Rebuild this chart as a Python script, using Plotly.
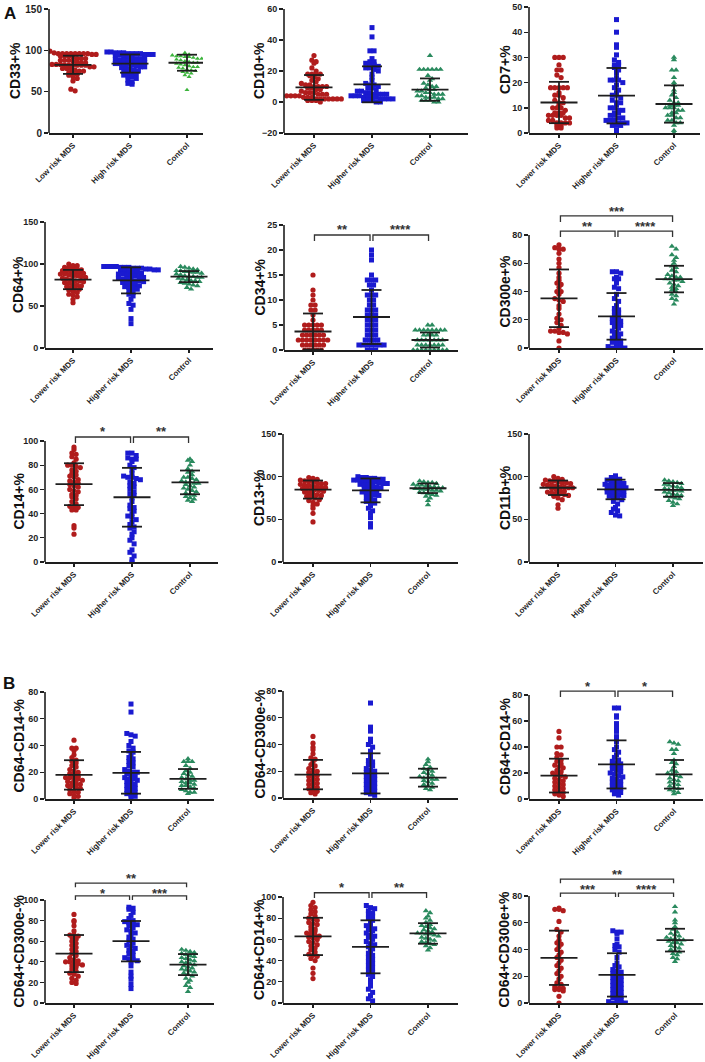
import plotly.graph_objects as go

W, H = 705, 1062
GROUPS_A1 = ["Low risk MDS", "High risk MDS", "Control"]
GROUPS = ["Lower risk MDS", "Higher risk MDS", "Control"]

# ---------------- data ----------------
cd33_low = [99, 97, 96, 96, 96, 96, 96, 96, 96, 96, 95, 95, 93, 93, 93, 92, 90, 90, 90, 88, 88, 88, 87, 86, 85, 85,
            83, 83, 83, 82, 82, 82, 82, 82, 82, 80, 80, 78, 78, 78, 76, 75, 75, 73, 73, 71, 70, 68, 66, 63, 53, 51]
cd33_high = [98, 98, 97, 97, 97, 96, 96, 96, 96, 95, 95, 95, 94, 94, 93, 92, 91, 90, 90, 90, 89, 88, 88, 87, 86, 85,
             85, 85, 84, 84, 84, 83, 82, 81, 80, 80, 79, 78, 77, 76, 75, 74, 73, 72, 72, 70, 69, 68, 66, 64, 62, 60, 59]
cd33_ctrl = [97, 95, 94, 93, 93, 92, 92, 91, 90, 90, 89, 88, 87, 86, 85, 85, 84, 83, 82, 81, 80, 80, 79, 78, 77, 76,
             75, 74, 73, 72, 70, 68, 52]
cd33_mean = [82.5, 84.0, 85.0]
cd33_sd = [11.0, 11.0, 9.7]

cd10_low = [30, 27, 26, 25, 22, 20, 18, 18, 18, 18, 17, 16, 15, 14, 13, 12, 11, 11, 10, 10, 10, 10, 9, 9, 8, 8, 7, 6,
            6, 6, 5, 5, 5, 4, 4, 4, 4, 3, 3, 3, 2, 2, 2, 2, 2, 2, 2, 1, 1, 1, 0]
cd10_high = [48, 42, 33, 33, 28, 26, 26, 25, 25, 24, 23, 22, 22, 21, 20, 18, 16, 14, 12, 11, 11, 10, 9, 9, 8, 7, 7, 6,
             6, 5, 5, 5, 5, 4, 4, 4, 3, 3, 3, 3, 2, 2, 2, 2, 1, 1, 1, 0, 0]
cd10_ctrl = [30, 21, 21, 21, 21, 21, 21, 17, 15, 14, 12, 11, 10, 10, 9, 8, 8, 7, 7, 6, 6, 5, 5, 5, 4, 4, 3, 3, 3, 2, 2,
             1, 1, 1, 0, 0]
cd10_mean = [9.4, 11.4, 8.0]
cd10_sd = [8.0, 11.6, 7.2]

cd7_low = [30, 30, 30, 27, 25, 25, 23, 22, 18, 18, 18, 18, 18, 16, 15, 15, 14, 13, 12, 12, 11, 10, 10, 10, 9, 8, 8, 8,
           7, 7, 7, 7, 6, 6, 5, 5, 4, 4, 4, 4, 3, 3, 2, 2]
cd7_high = [45, 40, 35, 34, 31, 29, 28, 27, 27, 26, 25, 24, 22, 21, 21, 21, 20, 19, 18, 17, 16, 15, 15, 14, 13, 12, 12,
            11, 10, 10, 9, 9, 8, 8, 7, 7, 6, 6, 5, 5, 5, 4, 4, 4, 3, 3, 3, 1, 0]
cd7_ctrl = [30, 29, 25, 25, 22, 20, 19, 17, 16, 15, 14, 13, 12, 12, 11, 11, 11, 10, 10, 10, 9, 9, 8, 8, 7, 7, 6, 6, 5,
            5, 4, 4, 3, 1, 0]
cd7_mean = [12.1, 14.8, 11.5]
cd7_sd = [8.2, 11.0, 7.4]

cd64_low = [100, 98, 98, 96, 96, 95, 94, 93, 92, 92, 91, 90, 90, 89, 88, 88, 87, 86, 86, 85, 84, 83, 82, 81, 80, 80,
            79, 78, 77, 76, 75, 74, 73, 72, 71, 70, 69, 68, 66, 64, 63, 61, 58, 54]
cd64_high = [97, 97, 97, 97, 96, 96, 96, 95, 95, 95, 94, 94, 93, 93, 92, 92, 91, 90, 90, 89, 88, 88, 87, 86, 86, 85,
             84, 83, 82, 82, 81, 80, 80, 79, 78, 77, 76, 75, 74, 73, 72, 71, 70, 68, 66, 64, 62, 58, 53, 51, 46, 35, 29]
cd64_ctrl = [97, 96, 95, 94, 93, 92, 92, 91, 91, 90, 90, 89, 88, 87, 86, 85, 85, 84, 84, 83, 82, 81, 80, 80, 79, 78,
             77, 76, 75, 74, 72, 70]
cd64_mean = [81.5, 80.5, 85.0]
cd64_sd = [11.5, 15.5, 6.6]

cd34_low = [15, 12, 11, 10, 9, 9, 8, 8, 7, 6, 5, 5, 5, 5, 5, 4, 4, 4, 4, 4, 3, 3, 3, 3, 3, 3, 2, 2, 2, 2, 2, 2, 2, 2,
            1, 1, 1, 1, 1, 1, 0, 0, 0, 0, 0]
cd34_high = [20, 19, 18, 15, 14, 14, 14, 13, 13, 12, 11, 11, 11, 10, 10, 9, 9, 8, 8, 8, 7, 7, 7, 6, 6, 6, 5, 5, 5, 4,
             4, 4, 3, 3, 3, 2, 2, 2, 2, 1, 1, 1, 1, 1, 1, 1, 0, 0, 0]
cd34_ctrl = [5, 5, 4, 4, 4, 4, 4, 4, 4, 4, 3, 3, 3, 3, 2, 2, 2, 2, 2, 2, 2, 1, 1, 1, 1, 1, 1, 1, 0, 0, 0, 0, 0, 0, 0,
             0, 0]
cd34_mean = [3.7, 6.6, 2.0]
cd34_sd = [3.6, 5.4, 1.5]

cd300e_low = [73, 71, 70, 70, 67, 63, 60, 57, 53, 50, 48, 46, 45, 43, 40, 40, 38, 35, 34, 33, 30, 28, 24, 21, 20, 18,
              16, 14, 12, 12, 11, 11, 10, 5, 0]
cd300e_high = [54, 54, 53, 50, 49, 49, 46, 43, 42, 38, 35, 33, 30, 28, 27, 26, 25, 23, 22, 21, 20, 19, 18, 17, 16, 15,
               14, 12, 11, 10, 9, 8, 7, 6, 5, 4, 3, 2, 1, 0, 0, 0, 0]
cd300e_ctrl = [72, 70, 66, 64, 62, 60, 58, 57, 55, 54, 52, 51, 50, 50, 49, 49, 48, 48, 47, 46, 45, 44, 43, 42, 41, 40,
               38, 37, 35, 34, 31]
cd300e_mean = [35.2, 22.4, 48.8]
cd300e_sd = [20.4, 16.5, 9.4]

cd14_low = [95, 93, 90, 89, 87, 85, 82, 80, 80, 79, 78, 76, 75, 73, 72, 71, 70, 68, 67, 66, 65, 64, 63, 62, 60, 59, 58,
            56, 55, 54, 52, 50, 48, 46, 46, 45, 43, 43, 30, 28, 23]
cd14_high = [90, 90, 88, 86, 85, 85, 83, 80, 78, 76, 73, 71, 70, 70, 69, 68, 66, 65, 63, 62, 60, 58, 56, 55, 53, 50,
             47, 45, 44, 42, 40, 38, 37, 35, 33, 31, 29, 28, 25, 23, 20, 18, 15, 10, 8, 5, 2, 0]
cd14_ctrl = [85, 84, 83, 80, 77, 75, 74, 72, 70, 70, 69, 68, 67, 66, 66, 65, 65, 64, 63, 62, 61, 60, 59, 58, 57, 56,
             55, 54, 53, 52, 51, 50]
cd14_mean = [64.3, 53.5, 65.8]
cd14_sd = [17.3, 24.3, 9.8]

cd13_low = [99, 98, 97, 96, 95, 95, 94, 93, 92, 92, 91, 90, 90, 89, 88, 88, 87, 86, 86, 85, 85, 84, 83, 82, 81, 80, 79,
            78, 77, 76, 75, 73, 72, 70, 68, 66, 63, 57, 47]
cd13_high = [100, 99, 99, 98, 98, 97, 97, 96, 96, 95, 95, 94, 94, 93, 92, 92, 91, 90, 90, 89, 88, 87, 86, 85, 84, 83,
             82, 81, 80, 79, 78, 76, 75, 73, 71, 70, 69, 66, 63, 60, 57, 52, 45, 41]
cd13_ctrl = [95, 94, 93, 93, 92, 91, 90, 90, 89, 88, 88, 87, 87, 86, 86, 85, 85, 84, 84, 83, 82, 81, 80, 79, 78, 77, 75,
             72, 67]
cd13_mean = [84.9, 83.9, 86.4]
cd13_sd = [10.6, 14.0, 5.6]

cd11b_low = [100, 98, 97, 96, 95, 95, 94, 93, 93, 92, 91, 90, 90, 89, 88, 88, 87, 87, 86, 85, 84, 83, 82, 81, 80, 80,
             79, 78, 77, 75, 73, 67, 63]
cd11b_high = [101, 99, 98, 97, 96, 95, 94, 93, 92, 91, 90, 90, 89, 88, 87, 86, 85, 85, 84, 83, 82, 81, 80, 79, 78, 77,
              76, 75, 73, 71, 68, 64, 62, 60, 58, 55, 54]
cd11b_ctrl = [96, 95, 94, 93, 92, 91, 90, 89, 88, 87, 86, 85, 84, 84, 83, 82, 81, 80, 79, 78, 77, 76, 75, 74, 72, 70,
              68, 66]
cd11b_mean = [87.0, 85.0, 84.5]
cd11b_sd = [8.5, 11.5, 8.0]

dn14_low = [44, 38, 38, 36, 33, 31, 29, 28, 27, 25, 24, 22, 21, 20, 19, 18, 17, 16, 16, 15, 15, 14, 13, 12, 12, 11, 10,
            10, 9, 8, 7, 6, 5, 4, 3, 2, 1]
dn14_high = [71, 65, 49, 48, 47, 43, 40, 38, 36, 35, 33, 31, 30, 28, 27, 25, 24, 22, 21, 20, 20, 19, 18, 17, 16, 15,
             15, 14, 13, 12, 11, 10, 9, 8, 7, 6, 5, 4, 3, 2, 1]
dn14_ctrl = [30, 28, 28, 28, 25, 23, 21, 20, 19, 18, 17, 16, 15, 14, 14, 13, 12, 12, 11, 10, 10, 9, 8, 7, 6, 5, 5, 4]
dn14_mean = [18.0, 19.6, 15.0]
dn14_sd = [11.0, 15.6, 7.4]

dn300_low = [46, 41, 38, 36, 33, 30, 29, 27, 25, 24, 22, 21, 20, 19, 18, 17, 16, 15, 14, 13, 12, 11, 10, 9, 8, 7, 6, 5,
             4, 3]
dn300_high = [71, 53, 50, 44, 42, 40, 38, 35, 33, 30, 28, 27, 25, 24, 22, 21, 20, 19, 18, 17, 16, 15, 14, 13, 12, 11,
              10, 9, 8, 7, 6, 5, 4, 3, 2]
dn300_ctrl = [29, 27, 25, 23, 22, 21, 20, 19, 18, 17, 16, 15, 15, 14, 14, 13, 12, 11, 10, 9, 8, 7, 6]
dn300_mean = [17.5, 18.4, 15.2]
dn300_sd = [11.0, 15.0, 6.7]

p14n_low = [52, 47, 40, 40, 35, 34, 32, 30, 29, 27, 26, 25, 24, 22, 21, 20, 19, 18, 17, 16, 15, 14, 13, 12, 11, 10, 9,
            8, 7, 6, 5, 4, 3, 2]
p14n_high = [70, 70, 64, 63, 58, 55, 52, 48, 45, 44, 40, 38, 36, 34, 32, 30, 29, 28, 27, 26, 25, 24, 23, 22, 21, 20,
             19, 18, 17, 16, 15, 14, 13, 12, 11, 10, 9, 8, 7, 6, 5, 4, 3]
p14n_ctrl = [44, 43, 42, 38, 38, 35, 30, 28, 27, 25, 22, 21, 20, 19, 18, 17, 16, 15, 14, 13, 12, 11, 10, 9, 8, 7, 6, 5,
             4]
p14n_mean = [18.0, 26.6, 19.0]
p14n_sd = [13.0, 18.5, 11.0]

p300n_low = [86, 80, 79, 75, 70, 66, 66, 65, 64, 62, 60, 58, 56, 54, 52, 50, 48, 46, 44, 42, 41, 40, 40, 39, 38, 37,
             36, 35, 33, 31, 29, 28, 26, 24, 22, 20, 19]
p300n_high = [93, 92, 91, 88, 85, 82, 80, 79, 78, 77, 76, 75, 73, 71, 70, 68, 66, 64, 62, 60, 58, 56, 55, 53, 51, 50,
              48, 46, 44, 43, 42, 41, 40, 36, 30, 26, 23, 18, 14]
p300n_ctrl = [52, 51, 50, 49, 48, 47, 46, 45, 44, 43, 42, 41, 40, 39, 38, 37, 36, 35, 34, 33, 32, 31, 30, 29, 28, 26,
              24, 22, 20, 17, 15, 11]
p300n_mean = [48.0, 60.0, 37.3]
p300n_sd = [18.0, 19.6, 10.2]

pp14_low = [95, 92, 90, 88, 86, 84, 82, 80, 79, 78, 76, 75, 74, 72, 70, 69, 68, 66, 65, 64, 63, 62, 61, 60, 58, 57, 55,
            54, 52, 50, 48, 46, 45, 44, 42, 40, 33, 28, 23]
pp14_high = [92, 90, 89, 87, 85, 84, 82, 80, 78, 75, 73, 71, 70, 69, 68, 66, 64, 63, 62, 60, 58, 56, 55, 53, 51, 49,
             47, 45, 43, 41, 39, 37, 35, 33, 31, 29, 27, 25, 22, 19, 16, 13, 10, 7, 4, 2]
pp14_ctrl = [87, 85, 82, 80, 78, 76, 74, 73, 72, 71, 70, 69, 68, 67, 66, 66, 65, 65, 64, 63, 62, 61, 60, 59, 58, 57, 56,
             55, 54, 52, 50]
pp14_mean = [62.8, 53.0, 65.6]
pp14_sd = [17.6, 25.0, 9.7]

pp300_low = [71, 70, 70, 69, 61, 55, 53, 50, 47, 45, 44, 42, 40, 38, 36, 34, 32, 30, 28, 26, 24, 22, 20, 18, 15, 14,
             12, 11, 11, 10, 10, 9, 5, 0]
pp300_high = [54, 53, 53, 52, 48, 44, 43, 42, 40, 38, 34, 30, 28, 27, 25, 24, 23, 22, 21, 20, 19, 18, 17, 16, 15, 14,
              13, 12, 11, 10, 9, 8, 7, 6, 5, 4, 3, 2, 1, 0, 0, 0, 0]
pp300_ctrl = [72, 68, 62, 60, 57, 55, 53, 52, 51, 50, 49, 48, 48, 47, 47, 46, 45, 45, 44, 43, 42, 41, 40, 39, 38, 37,
              36, 34, 33, 31]
pp300_mean = [33.8, 21.0, 47.0]
pp300_sd = [20.3, 16.2, 8.5]

# ---------------- layout of the panels (pixels) ----------------
P = [
    dict(t="CD33+%", d=(cd33_low, cd33_high, cd33_ctrl), m=cd33_mean, s=cd33_sd, lab=GROUPS_A1,
         L=49, c0=73, sp=57, R=203, yb=133, yt=9, v0=0, v1=150, dt=50, ext=0, tx=15, ctrl_col="#3cb43c", br=[]),
    dict(t="CD10+%", d=(cd10_low, cd10_high, cd10_ctrl), m=cd10_mean, s=cd10_sd, lab=GROUPS,
         L=284, c0=314, sp=58, R=468, yb=133, yt=9, v0=-20, v1=60, dt=20, ext=0, tx=259, br=[]),
    dict(t="CD7+%", d=(cd7_low, cd7_high, cd7_ctrl), m=cd7_mean, s=cd7_sd, lab=GROUPS,
         L=529, c0=559, sp=57.5, R=700, yb=133, yt=7, v0=0, v1=50, dt=10, ext=0, tx=505, br=[]),
    dict(t="CD64+%", d=(cd64_low, cd64_high, cd64_ctrl), m=cd64_mean, s=cd64_sd, lab=GROUPS,
         L=45, c0=73, sp=58, R=213, yb=348, yt=222, v0=0, v1=150, dt=50, ext=0, tx=18, br=[]),
    dict(t="CD34+%", d=(cd34_low, cd34_high, cd34_ctrl), m=cd34_mean, s=cd34_sd, lab=GROUPS,
         L=284, c0=313, sp=58.5, R=458, yb=350, yt=225, v0=0, v1=25, dt=5, ext=12, tx=259,
         br=[(0, 1, 23.0, 21.8, "**", 24.6), (1, 2, 23.0, 21.8, "****", 24.6)]),
    dict(t="CD300e+%", d=(cd300e_low, cd300e_high, cd300e_ctrl), m=cd300e_mean, s=cd300e_sd, lab=GROUPS,
         L=529, c0=559, sp=57.5, R=703, yb=348, yt=235, v0=0, v1=80, dt=20, ext=35, tx=504,
         br=[(0, 1, 82.8, 78.6, "**", 87.8), (1, 2, 82.8, 78.6, "****", 87.8), (0, 2, 93.5, 89.2, "***", 99.1)]),
    dict(t="CD14+%", d=(cd14_low, cd14_high, cd14_ctrl), m=cd14_mean, s=cd14_sd, lab=GROUPS,
         L=45, c0=74, sp=58, R=218, yb=562, yt=441, v0=0, v1=100, dt=20, ext=20, tx=18,
         br=[(0, 1, 103.3, 98.3, "*", 110.7), (1, 2, 103.3, 98.3, "**", 110.7)]),
    dict(t="CD13+%", d=(cd13_low, cd13_high, cd13_ctrl), m=cd13_mean, s=cd13_sd, lab=GROUPS,
         L=283, c0=313, sp=57.5, R=458, yb=562, yt=434, v0=0, v1=150, dt=50, ext=0, tx=259, br=[]),
    dict(t="CD11b+%", d=(cd11b_low, cd11b_high, cd11b_ctrl), m=cd11b_mean, s=cd11b_sd, lab=GROUPS,
         L=529, c0=558, sp=57.5, R=703, yb=562, yt=434, v0=0, v1=150, dt=50, ext=0, tx=505, br=[]),
    dict(t="CD64-CD14-%", d=(dn14_low, dn14_high, dn14_ctrl), m=dn14_mean, s=dn14_sd, lab=GROUPS,
         L=45, c0=74, sp=57, R=214, yb=799, yt=692, v0=0, v1=80, dt=20, ext=0, tx=18, br=[]),
    dict(t="CD64-CD300e-%", d=(dn300_low, dn300_high, dn300_ctrl), m=dn300_mean, s=dn300_sd, lab=GROUPS,
         L=283, c0=313, sp=57.5, R=458, yb=798, yt=691, v0=0, v1=80, dt=20, ext=0, tx=259, br=[]),
    dict(t="CD64+CD14-%", d=(p14n_low, p14n_high, p14n_ctrl), m=p14n_mean, s=p14n_sd, lab=GROUPS,
         L=529, c0=559, sp=57.5, R=703, yb=799, yt=695, v0=0, v1=80, dt=20, ext=20, tx=505,
         br=[(0, 1, 83.0, 78.5, "*", 89.0), (1, 2, 83.0, 78.5, "*", 89.0)]),
    dict(t="CD64+CD300e-%", d=(p300n_low, p300n_high, p300n_ctrl), m=p300n_mean, s=p300n_sd, lab=GROUPS,
         L=45, c0=74, sp=57, R=214, yb=1003, yt=900, v0=0, v1=100, dt=20, ext=32, tx=18,
         br=[(0, 1, 104.0, 100.0, "*", 109.6), (1, 2, 104.0, 100.0, "***", 109.6), (0, 2, 116.3, 112.5, "**", 124.0)]),
    dict(t="CD64+CD14+%", d=(pp14_low, pp14_high, pp14_ctrl), m=pp14_mean, s=pp14_sd, lab=GROUPS,
         L=283, c0=313, sp=57.5, R=458, yb=1003, yt=897, v0=0, v1=100, dt=20, ext=22, tx=259,
         br=[(0, 1, 104.0, 99.0, "*", 111.5), (1, 2, 104.0, 99.0, "**", 111.5)]),
    dict(t="CD64+CD300e+%", d=(pp300_low, pp300_high, pp300_ctrl), m=pp300_mean, s=pp300_sd, lab=GROUPS,
         L=529, c0=559, sp=58, R=703, yb=1003, yt=896, v0=0, v1=80, dt=20, ext=35, tx=503,
         br=[(0, 1, 82.2, 79.3, "***", 87.4), (1, 2, 82.2, 79.3, "****", 87.4), (0, 2, 92.6, 89.6, "**", 98.5)]),
]

COLORS = ["#b01c1c", "#1a1ad0", "#2a8a5e"]
SYMBOLS = ["circle", "square", "triangle-up"]
SIZES = [5.2, 5.0, 5.6]
INK = "#1e1e1e"
FONT = "Arial, Liberation Sans, sans-serif"


def swarm(values, ppu, sp, row_h=4.0, step=4.2):
    """Prism-like scatter layout: points binned into pixel rows, each row centred."""
    rows = {}
    for i, v in enumerate(values):
        r = int(round(v * ppu / row_h))
        rows.setdefault(r, []).append(i)
    offs = [0.0] * len(values)
    for r, idx in rows.items():
        n = len(idx)
        for j, i in enumerate(idx):
            offs[i] = (j - (n - 1) / 2.0) * step / sp
    return offs


fig = go.Figure()
layout = {}
annotations = []
shapes = []

for k, p in enumerate(P, start=1):
    sfx = "" if k == 1 else str(k)
    xa, ya = "x" + sfx, "y" + sfx
    scale = (p["yb"] - p["yt"]) / (p["v1"] - p["v0"])
    top_px = p["yt"] - p["ext"]
    y_top_val = p["v1"] + p["ext"] / scale
    layout["xaxis" + sfx] = dict(
        domain=[p["L"] / W, p["R"] / W],
        range=[(p["L"] - p["c0"]) / p["sp"], (p["R"] - p["c0"]) / p["sp"]],
        anchor=ya, tickmode="array", tickvals=[0, 1, 2], ticktext=p["lab"], tickangle=-45,
        showline=True, linecolor=INK, linewidth=1.6, ticks="outside", ticklen=3, tickwidth=1.4,
        tickcolor=INK, showgrid=False, zeroline=False, automargin=False,
        tickfont=dict(family=FONT, size=8, color=INK, weight="bold"), fixedrange=True)
    layout["yaxis" + sfx] = dict(
        domain=[1 - p["yb"] / H, 1 - top_px / H],
        range=[p["v0"], y_top_val], anchor=xa,
        tickmode="array", tickvals=list(range(p["v0"], p["v1"] + 1, p["dt"])),
        showline=False, ticks="outside", ticklen=4, tickwidth=1.4, tickcolor=INK,
        showgrid=False, zeroline=False, automargin=False,
        tickfont=dict(family=FONT, size=10 if k == 1 else 9, color=INK, weight="bold"), fixedrange=True)
    # y axis line up to the top tick
    shapes.append(dict(type="line", xref=xa + " domain", yref=ya, x0=0, x1=0, y0=p["v0"], y1=p["v1"],
                       line=dict(color=INK, width=1.6)))
    # points
    for g in range(3):
        vals = p["d"][g]
        offs = swarm([v - p["v0"] for v in vals], scale, p["sp"])
        col = COLORS[g]
        size = SIZES[g]
        if g == 2 and "ctrl_col" in p:
            col = p["ctrl_col"]
            size = 4.4
        fig.add_trace(go.Scatter(
            x=[g + o for o in offs], y=vals, mode="markers", xaxis=xa, yaxis=ya,
            marker=dict(symbol=SYMBOLS[g], size=size, color=col, line=dict(width=0)),
            hoverinfo="skip", showlegend=False))
    # mean and SD
    for g in range(3):
        mu, sd = p["m"][g], p["s"][g]
        hw = 18.5 / p["sp"]
        cw = 10.0 / p["sp"]
        fig.add_trace(go.Scatter(
            x=[g - hw, g + hw, None, g, g, None, g - cw, g + cw, None, g - cw, g + cw],
            y=[mu, mu, None, mu - sd, mu + sd, None, mu + sd, mu + sd, None, mu - sd, mu - sd],
            mode="lines", xaxis=xa, yaxis=ya, line=dict(color=INK, width=1.8),
            hoverinfo="skip", showlegend=False))
    # significance brackets
    for (a, b, lev, drop, stars, slev) in p["br"]:
        gap = 0.025
        fig.add_trace(go.Scatter(
            x=[a + gap, a + gap, b - gap, b - gap], y=[drop, lev, lev, drop],
            mode="lines", xaxis=xa, yaxis=ya, line=dict(color="#333333", width=1.3),
            hoverinfo="skip", showlegend=False))
        annotations.append(dict(x=(a + b) / 2, y=slev, xref=xa, yref=ya, text=stars, showarrow=False,
                                yshift=-3, font=dict(family=FONT, size=13, color="#333333", weight="bold")))
    # y axis title
    annotations.append(dict(x=p["tx"] / W, y=(p["v0"] + p["v1"]) / 2, xref="paper", yref=ya, text=p["t"],
                            textangle=-90, showarrow=False, xanchor="center", yanchor="middle",
                            font=dict(family=FONT, size=14, color="#111111", weight="bold")))

annotations.append(dict(x=2 / W, y=1 - 2 / H, xref="paper", yref="paper", text="A", showarrow=False,
                        xanchor="left", yanchor="top",
                        font=dict(family=FONT, size=17, color="#111111", weight="bold")))
annotations.append(dict(x=1 / W, y=1 - 672 / H, xref="paper", yref="paper", text="B", showarrow=False,
                        xanchor="left", yanchor="top",
                        font=dict(family=FONT, size=17, color="#111111", weight="bold")))

fig.update_layout(width=W, height=H, margin=dict(l=0, r=0, t=0, b=0, pad=0, autoexpand=False),
                  paper_bgcolor="white", plot_bgcolor="rgba(0,0,0,0)", showlegend=False,
                  annotations=annotations, shapes=shapes, font=dict(family=FONT), **layout)
fig.write_html("out.html", config={"displayModeBar": False, "staticPlot": True},
               post_script="document.body.style.margin='0px';document.body.style.padding='0px';"
                           "document.documentElement.style.overflow='hidden';")
